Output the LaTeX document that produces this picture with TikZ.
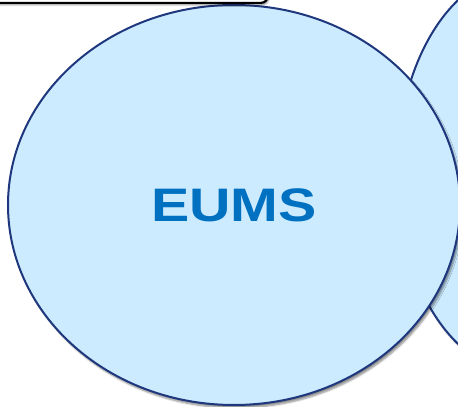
\documentclass[tikz,border=0pt]{standalone}
\usepackage{fontspec}
\setsansfont{Liberation Sans}
\usepackage{tikz}
\usetikzlibrary{shapes.geometric, shadows.blur}
\definecolor{bubblefill}{RGB}{204,235,255}
\definecolor{bubbleline}{RGB}{30,55,125}
\definecolor{labelblue}{RGB}{0,112,192}
\tikzstyle{bubble} = [ellipse, draw=bubbleline, line width=2pt, fill=bubblefill, inner sep=0pt, outer sep=0pt,
  blur shadow={shadow xshift=2pt, shadow yshift=-3pt, shadow blur steps=6, shadow opacity=45}]
\tikzstyle{banner} = [draw=black, line width=2.2pt, fill=white, rounded corners=7pt, inner sep=0pt,
  blur shadow={shadow xshift=1pt, shadow yshift=-2pt, shadow blur steps=4, shadow opacity=45}]

\begin{document}
\begin{tikzpicture}[x=1pt,y=1pt]
	\useasboundingbox (0,0) rectangle (458,407);
	\begin{scope}
		
		% second bubble, mostly cut off on the right
		\node[bubble, minimum width=250pt, minimum height=400pt] (other) at (522,235) {};
		
		% main bubble with its label
		\node[bubble, minimum width=452pt, minimum height=400pt,
		font=\sffamily\bfseries\fontsize{47}{50}\selectfont, text=labelblue] (eums) at (234,202)
		{\scalebox{1.22}[1]{EUMS}};
		
		% box above, only its lower edge shows
		\node[banner, minimum width=290pt, minimum height=40pt, anchor=south east] (top) at (269,403) {};
		
	\end{scope}
\end{tikzpicture}
\end{document}
